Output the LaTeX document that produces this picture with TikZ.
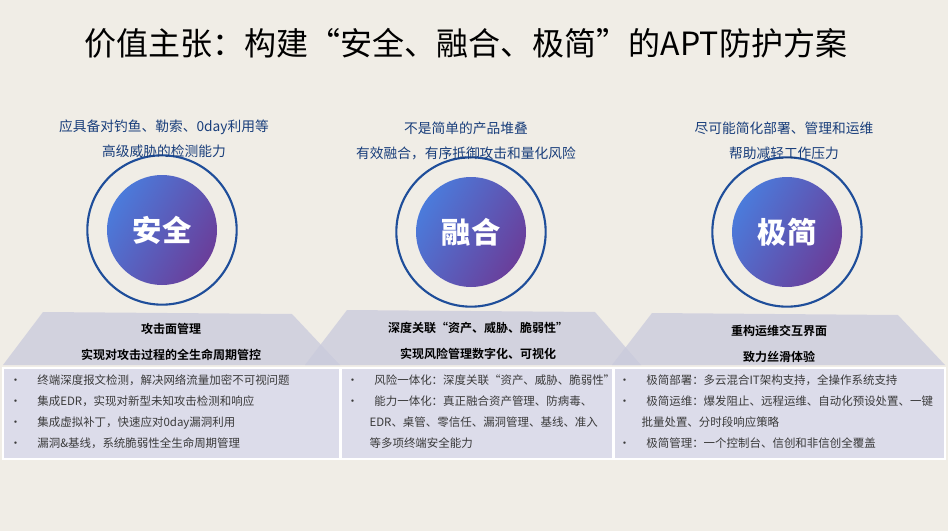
\documentclass[tikz,border=0pt]{standalone}
\usepackage{fontspec}
\setmainfont{Noto Sans CJK SC}
\newfontfamily\cjkbold{Noto Sans CJK SC Bold}
\usetikzlibrary{positioning}
\definecolor{bg}{HTML}{F0EDE6}
\definecolor{ring}{HTML}{1F4E9A}
\definecolor{boxfill}{HTML}{DCDCEA}
\definecolor{trap}{HTML}{C9CADC}
\definecolor{txt}{HTML}{3A3A3A}
\definecolor{blueA}{HTML}{4B7BDB}
\definecolor{purpleA}{HTML}{6A3E9A}
\begin{document}
\begin{tikzpicture}[x=0.75pt,y=-0.75pt]

  \tikzstyle{lead}=[font=\fontsize{10.3}{19}\selectfont, text=ring!80!black, align=center]
  \tikzstyle{core}=[circle, minimum size=82.5pt, inner sep=0pt, left color=blueA, right color=purpleA, shading angle=60, text=white, font=\fontsize{22}{24}\selectfont\bfseries]
  \tikzstyle{halo}=[circle, draw=ring, line width=1.6pt, minimum size=112pt, inner sep=0pt]
  \tikzstyle{roof}=[fill=trap, fill opacity=.75]
  \tikzstyle{head}=[font=\cjkbold\fontsize{9}{19}\selectfont, align=center, text=black]
  \tikzstyle{panel}=[fill=boxfill, draw=white, line width=1.2pt]
  \tikzstyle{item}=[font=\fontsize{8.6}{15.8}\selectfont, text=txt, align=left, anchor=north west, inner sep=2pt]

  \fill [bg] (0,0) rectangle (948,531);

  \node (title) at (466,43) {\fontsize{24}{26}\selectfont 价值主张：构建“安全、融合、极简”的APT防护方案};

  % circles
  \node [halo] (ring-1) at (162,230) {};
  \node [core] (safe) at (162,230) {安全};
  \node [halo] (ring-2) at (471,232) {};
  \node [core] (merge) at (471,232) {融合};
  \node [halo] (ring-3) at (787,232) {};
  \node [core] (simple) at (787,232) {极简};

  \node [lead] (lead-1) at (164,139) {应具备对钓鱼、勒索、0day利用等\\高级威胁的检测能力};
  \node [lead] (lead-2) at (466,141) {不是简单的产品堆叠\\有效融合，有序抵御攻击和量化风险};
  \node [lead] (lead-3) at (784,141) {尽可能简化部署、管理和运维\\帮助减轻工作压力};

  % roofs
  \fill [roof] (3,365) -- (43,312) -- (292,314) -- (340,365) -- cycle;
  \fill [roof] (305,365) -- (347,310) -- (595,312) -- (641,365) -- cycle;
  \fill [roof] (612,365) -- (652,313) -- (898,315) -- (945,365) -- cycle;

  \node [head] (head-1) at (171,342) {攻击面管理\\实现对攻击过程的全生命周期管控};
  \node [head] (head-2) at (478,341) {深度关联“资产、威胁、脆弱性”\\实现风险管理数字化、可视化};
  \node [head] (head-3) at (779,344) {重构运维交互界面\\致力丝滑体验};

  % panels
  \draw [panel] (3,368) rectangle (340,459);
  \draw [panel] (341,368) rectangle (613,459);
  \draw [panel] (614,368) rectangle (945,459);

  \node [item] (list-1) at (7,372) {•\hspace{12pt}终端深度报文检测，解决网络流量加密不可视问题\\
    •\hspace{12pt}集成EDR，实现对新型未知攻击检测和响应\\
    •\hspace{12pt}集成虚拟补丁，快速应对0day漏洞利用\\
    •\hspace{12pt}漏洞\&基线，系统脆弱性全生命周期管理};
  \begin{scope}
    \clip (341,368) rectangle (613,459);
    \node [item] (list-2) at (344,372) {•\hspace{12pt}风险一体化：深度关联“资产、威胁、脆弱性”\\
      •\hspace{12pt}能力一体化：真正融合资产管理、防病毒、\\
      \hspace{17pt}EDR、桌管、零信任、漏洞管理、基线、准入\\
      \hspace{17pt}等多项终端安全能力};
  \end{scope}
  \node [item] (list-3) at (616,372) {•\hspace{12pt}极简部署：多云混合IT架构支持，全操作系统支持\\
    •\hspace{12pt}极简运维：爆发阻止、远程运维、自动化预设处置、一键\\
    \hspace{17pt}批量处置、分时段响应策略\\
    •\hspace{12pt}极简管理：一个控制台、信创和非信创全覆盖};

  \useasboundingbox (0,0) rectangle (948,531);
\end{tikzpicture}
\end{document}
